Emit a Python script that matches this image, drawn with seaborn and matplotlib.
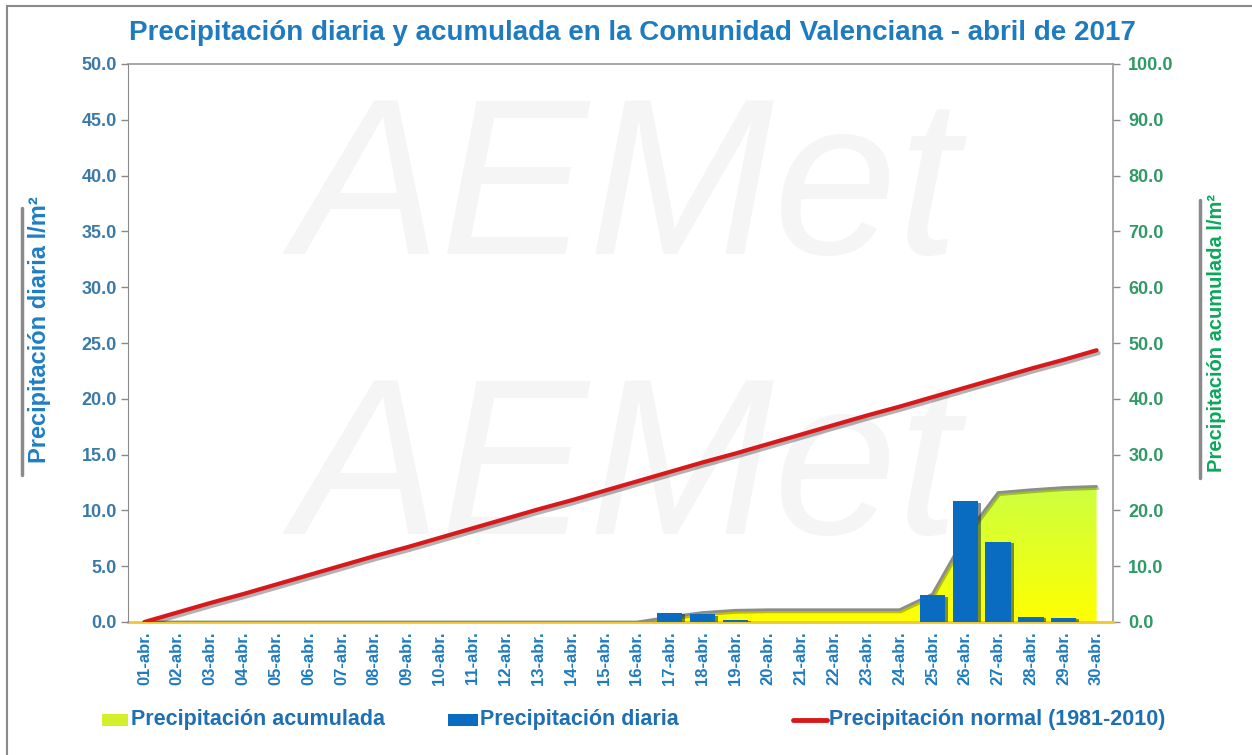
import numpy as np
import pandas as pd
import matplotlib
matplotlib.use('Agg')
import matplotlib.pyplot as plt
import matplotlib.patheffects as pe
from matplotlib.lines import Line2D
from matplotlib.patches import Rectangle
from matplotlib.ticker import FormatStrFormatter
import seaborn as sns

# datos
dias = ['01-abr.', '02-abr.', '03-abr.', '04-abr.', '05-abr.', '06-abr.', '07-abr.', '08-abr.',
        '09-abr.', '10-abr.', '11-abr.', '12-abr.', '13-abr.', '14-abr.', '15-abr.', '16-abr.',
        '17-abr.', '18-abr.', '19-abr.', '20-abr.', '21-abr.', '22-abr.', '23-abr.', '24-abr.',
        '25-abr.', '26-abr.', '27-abr.', '28-abr.', '29-abr.', '30-abr.']
diaria = [0, 0, 0, 0, 0, 0, 0, 0, 0, 0, 0, 0, 0, 0, 0, 0,
          0.8, 0.7, 0.2, 0, 0, 0, 0, 0, 2.4, 10.8, 7.2, 0.45, 0.4, 0]
acumulada = [0, 0, 0, 0, 0, 0, 0, 0, 0, 0, 0, 0, 0, 0, 0, 0,
             0.9, 1.7, 2.1, 2.2, 2.2, 2.2, 2.2, 2.2, 5.0, 15.4, 23.2, 23.7, 24.1, 24.3]
normal = [0, 1.7, 3.4, 5.0, 6.7, 8.4, 10.1, 11.8, 13.4, 15.1, 16.8, 18.5, 20.2, 21.8, 23.5,
          25.2, 26.9, 28.6, 30.2, 31.9, 33.6, 35.3, 37.0, 38.6, 40.3, 42.0, 43.7, 45.4, 47.0, 48.7]
leyenda = ['Precipitación acumulada', 'Precipitación diaria', 'Precipitación normal (1981-2010)']

df = pd.DataFrame({'dia': dias, 'pos': range(len(dias)), 'diaria': diaria,
                   'acumulada': acumulada, 'normal': normal})

sns.set_style('white')
plt.rcParams['font.family'] = ['Liberation Sans', 'DejaVu Sans']

azul_tit = '#1e7bbf'
azul_tick = '#3a7aa8'
verde_tick = '#2f9a66'
c_acum = '#d4f02a'
c_diaria = '#0a6cc0'
c_normal = '#d7191c'

W, H = 1252, 755
fig = plt.figure(figsize=(W / 100, H / 100), dpi=100)
fig.patch.set_facecolor('white')

def fx(px):
    return px / W

def fy(py):
    return 1 - py / H

# marco de la imagen
fig.add_artist(Rectangle((fx(7), -0.05), 1.2, fy(6) + 0.05, transform=fig.transFigure,
                         fill=False, edgecolor='#8a8a8a', lw=1.5))

# marca de agua (muy tenue), dentro del area de trazado
for yy in (0.74, 0.37):
    fig.text(0.5, yy, 'AEMet', ha='center', va='center', fontsize=160, style='italic',
             color='#f5f5f5', zorder=-5)

rect = [fx(128), fy(622), fx(1113 - 128), (622 - 64) / H]
ax = fig.add_axes(rect)          # escala acumulada (derecha)
ax.set_facecolor('none')
ax_d = fig.add_axes(rect)        # escala diaria (izquierda)
ax_d.set_facecolor('none')

# area acumulada con degradado
poly = ax.fill_between(df['pos'], 0, df['acumulada'], color='none', lw=0, zorder=2)
grad = np.linspace(0, 1, 256).reshape(-1, 1)
cmap = matplotlib.colors.LinearSegmentedColormap.from_list('ac', ['#ffff00', '#ccff40'])
img = ax.imshow(grad, cmap=cmap, origin='lower', aspect='auto',
                extent=[0, 29, 0, max(acumulada)], zorder=2)
img.set_clip_path(poly.get_paths()[0], transform=ax.transData)
ax.plot(df['pos'], df['acumulada'], color='#8c8c8c', lw=2, zorder=3,
        path_effects=[pe.SimpleLineShadow(offset=(1, -1.5), alpha=0.25), pe.Normal()])

# normal 1981-2010
sns.lineplot(data=df, x='pos', y='normal', ax=ax, color=c_normal, lw=3, zorder=4,
             path_effects=[pe.SimpleLineShadow(offset=(1.5, -2), alpha=0.3), pe.Normal()])

# barras diarias
sns.barplot(data=df, x='pos', y='diaria', ax=ax_d, color=c_diaria, saturation=1,
            width=0.77, native_scale=True, edgecolor='none', linewidth=0, zorder=3)
for b in ax_d.patches:
    b.set_path_effects([pe.SimplePatchShadow(offset=(2, -1), alpha=0.5), pe.Normal()])

for a in (ax, ax_d):
    a.set_xlim(-0.5, 29.5)
    a.set_xlabel('')
    a.set_ylabel('')
ax.set_ylim(0, 100)
ax_d.set_ylim(0, 50)

ax.yaxis.tick_right()
ax_d.yaxis.tick_left()
ax_d.set_xticks([])

ax.set_yticks(np.arange(0, 101, 10))
ax_d.set_yticks(np.arange(0, 51, 5))
ax.yaxis.set_major_formatter(FormatStrFormatter('%.1f'))
ax_d.yaxis.set_major_formatter(FormatStrFormatter('%.1f'))
ax.set_xticks(range(len(dias)))
ax.set_xticklabels(dias, rotation=90, fontsize=12, fontweight='bold', color=azul_tit)
ax.tick_params(axis='x', length=0, pad=7)

ax.tick_params(axis='y', colors='#8a8a8a', length=5, width=1, pad=6, labelsize=13)
for t in ax.get_yticklabels():
    t.set_color(verde_tick)
    t.set_fontweight('bold')
ax_d.tick_params(axis='y', colors='#8a8a8a', length=5, width=1, pad=3, labelsize=13)
for t in ax_d.get_yticklabels():
    t.set_color(azul_tick)
    t.set_fontweight('bold')

for s in ax_d.spines.values():
    s.set_visible(False)
ax_d.spines['left'].set_visible(True)
ax_d.spines['left'].set_color('#8a8a8a')
for s in ax.spines.values():
    s.set_color('#9a9a9a')
    s.set_linewidth(1.2)
ax.spines['left'].set_visible(False)
ax.spines['bottom'].set_color('#f0c830')
ax.spines['bottom'].set_linewidth(2)

fig.text(fx(632), fy(33), 'Precipitación diaria y acumulada en la Comunidad Valenciana - abril de 2017',
         ha='center', va='center', fontsize=20, fontweight='bold', color=azul_tit)

# titulos de ejes con barra gris
fig.text(fx(40), fy(330), 'Precipitación diaria l/m²', rotation=90, ha='center', va='center',
         fontsize=17, fontweight='bold', color='#1f7fc4')
fig.text(fx(1216), fy(333), 'Precipitación acumulada l/m²', rotation=90, ha='center', va='center',
         fontsize=14.5, fontweight='bold', color='#0aa85a')
fig.add_artist(Line2D([fx(22), fx(22)], [fy(208), fy(475)], transform=fig.transFigure,
                      color='#8a8a8a', lw=2.5))
fig.add_artist(Line2D([fx(1200), fx(1200)], [fy(200), fy(478)], transform=fig.transFigure,
                      color='#8a8a8a', lw=2.5))

# leyenda
ly = fy(720)
fig.add_artist(Rectangle((fx(102), ly - 6 / H), 26 / W, 12 / H, transform=fig.transFigure,
                         facecolor=c_acum, edgecolor='none'))
fig.add_artist(Rectangle((fx(448), ly - 6 / H), 30 / W, 12 / H, transform=fig.transFigure,
                         facecolor=c_diaria, edgecolor='none'))
fig.add_artist(Line2D([fx(793), fx(827)], [ly, ly], transform=fig.transFigure,
                      color=c_normal, lw=3.5))
for x0, txt in zip((131, 480, 829), leyenda):
    fig.text(fx(x0), ly, txt, ha='left', va='center', fontsize=15.5, fontweight='bold',
             color='#1f6fb5')

fig.savefig('out.png', dpi=100, facecolor='white')
